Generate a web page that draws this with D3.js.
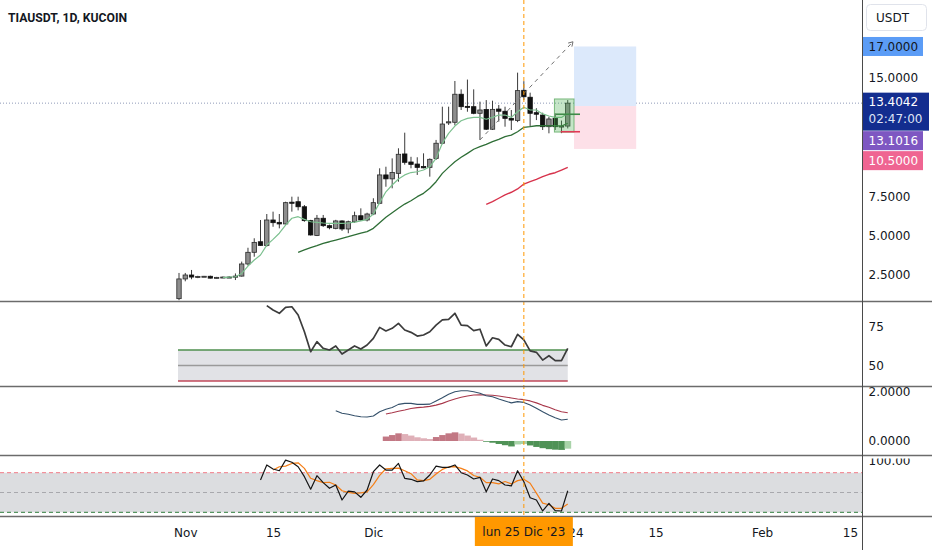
<!DOCTYPE html>
<html>
<head>
<meta charset="utf-8">
<script src="https://cdn.jsdelivr.net/npm/d3@7/dist/d3.min.js"></script>
<style>
html,body{margin:0;padding:0;background:#fff;}
svg{display:block;}
</style>
</head>
<body>
<svg id="chart" width="932" height="550"></svg>
<script>
// ---------------- DATA ----------------
const title = "TIAUSDT, 1D, KUCOIN";
const currency = "USDT";
const firstDay = "2023-10-31";
const lastDay = "2024-02-15";

const opens = [1.00,2.25,2.50,2.37,2.40,2.42,2.30,2.35,2.37,2.36,
  2.43,3.20,3.94,4.61,4.38,5.99,5.84,5.74,7.12,7.15,
  6.83,5.95,5.00,6.10,5.63,5.46,5.93,5.42,5.88,6.26,
  5.99,6.37,7.05,8.85,8.60,8.95,10.18,9.67,9.54,9.38,
  9.33,9.90,10.86,12.15,12.19,13.97,13.20,13.18,12.76,13.00,
  11.75,13.03,12.89,12.44,12.31,14.22,13.78,12.80,12.65,11.91,
  12.44,11.91,11.95];
const highs = [2.63,2.63,2.82,2.45,2.44,2.46,2.38,2.40,2.42,2.60,
  3.35,4.23,4.83,5.99,6.37,6.52,6.37,7.15,7.47,7.47,
  6.94,6.00,6.31,6.31,5.70,6.00,5.97,5.95,6.52,6.73,
  6.45,7.37,9.27,9.37,9.90,10.54,11.53,10.00,9.97,10.22,
  9.90,11.07,13.18,13.18,14.81,14.28,14.90,14.28,13.50,13.60,
  13.56,13.29,13.18,12.97,15.34,14.80,14.07,13.08,12.80,12.54,
  12.76,12.30,13.60];
const lows = [0.90,2.10,2.23,2.30,2.38,2.28,2.28,2.30,2.32,2.18,
  2.40,3.10,3.66,4.35,4.30,5.56,5.46,5.70,6.52,6.60,
  5.88,5.00,4.97,5.55,5.40,5.40,5.30,5.15,5.80,5.95,
  5.90,6.30,7.00,8.10,8.00,8.42,9.50,9.27,8.85,9.27,
  8.74,9.80,10.80,12.02,12.00,12.97,12.86,12.70,11.07,11.70,
  11.70,12.23,11.91,11.70,12.20,13.60,11.90,12.33,11.70,11.49,
  11.70,11.50,11.80];
const closes = [2.25,2.50,2.37,2.40,2.42,2.30,2.35,2.37,2.36,2.43,
  3.20,3.94,4.57,4.38,5.99,5.82,5.74,7.09,7.05,6.83,
  5.95,5.04,6.10,5.63,5.50,5.93,5.42,5.88,6.26,5.99,
  6.37,7.09,8.85,8.60,9.00,10.16,9.65,9.52,9.33,9.30,
  9.84,10.86,12.08,12.22,13.97,13.18,13.18,12.76,12.97,11.75,
  13.01,12.89,12.44,12.33,14.20,13.81,12.76,12.70,11.91,12.40,
  11.91,11.95,13.4042];

// moving averages (start = index of first candle they cover)
const emaFastStart = 7;
const emaFast = [2.33,2.36,2.39,2.6,3.07,3.45,3.77,4.4,4.76,5.15,5.67,6.1,6.2,6.03,5.88,5.84,5.8,5.78,5.78,5.78,
  5.8,5.85,5.93,6.03,6.37,7.09,7.78,8.21,8.59,8.85,9.0,9.05,9.16,9.37,9.9,10.86,11.49,11.95,12.29,12.44,
  12.5,12.5,12.38,12.5,12.65,12.65,12.5,12.86,13.14,12.97,12.97,12.72,12.59,12.5,12.5,12.76];
const emaMidStart = 19;
const emaMid = [3.94,4.09,4.23,4.36,4.51,4.61,4.72,4.83,4.93,5.04,5.15,5.25,5.46,5.82,6.16,6.45,6.73,7.0,7.21,7.47,
  7.68,8.0,8.42,8.95,9.33,9.69,9.97,10.22,10.48,10.64,10.79,10.96,11.11,11.28,11.38,11.59,11.87,11.91,11.97,11.97,
  11.97,11.97,11.95,12.13];
const emaSlowStart = 49;
const emaSlow = [6.98,7.15,7.37,7.58,7.75,7.96,8.27,8.42,8.57,8.74,8.89,8.99,9.16,9.33];

// RSI
const rsiStart = 14;
const rsi = [88.6,85.8,83.7,87.5,87.9,82.6,71.8,58.9,65.4,61.1,60,62.6,57.4,60,62.6,60.6,63.2,67.5,74.6,72.3,
  74,77.2,72.9,71.4,69,69.7,71.8,76.1,79.4,79.8,83.7,76.1,75.7,72.5,73.4,62.6,67.9,66.9,63.2,62.1,
  70.1,66.5,59.4,58.5,53.5,56.3,53.1,53.1,61.1];
const rsiLevels = [60, 50, 40];
const rsiTicks = [50, 75];

// MACD
const macdStart = 25;
const macd = [1.22,1.12,1.08,1.02,0.98,0.97,1.01,1.18,1.28,1.35,1.48,1.52,1.52,1.48,1.48,1.49,1.62,1.75,1.89,1.99,
  2.03,2.03,1.99,1.93,1.83,1.79,1.70,1.62,1.54,1.59,1.56,1.45,1.32,1.18,1.05,0.94,0.85,0.88];
const signalStart = 33;
const signal = [1.09,1.14,1.20,1.25,1.31,1.35,1.37,1.40,1.45,1.52,1.62,1.70,1.77,1.82,1.86,1.87,1.86,1.85,1.82,1.78,
  1.74,1.70,1.67,1.62,1.54,1.44,1.36,1.26,1.18,1.14];
const histStart = 33;
const hist = [0.18,0.24,0.31,0.28,0.22,0.15,0.11,0.08,0.16,0.24,0.31,0.35,0.30,0.22,0.14,0.05,-0.03,-0.07,-0.12,-0.17,
  -0.22,-0.14,-0.12,-0.18,-0.24,-0.29,-0.33,-0.35,-0.36,-0.31];
const macdTicks = [0, 2];

// Stochastic
const stochKStart = 13;
const stochK = [69,91.7,85.6,83,99,95.8,89,74,55,75.5,65,56.4,61.4,38.6,52,51,42.7,53.8,81.5,91.7,
  84,84,94,71.5,70,66.4,67.5,76.5,90,88,88,91.7,80,76.5,70.5,73,51,70.5,68,61.4,
  60,83,66.4,42,38.6,22,33.6,22.4,22,52.7];
const stochDStart = 15;
const stochD = [84,89,90,94,95,86.6,71.5,68,65,65.5,61.4,52.7,50.3,48.8,49.5,51,62,76,86,86.6,
  87,83,78.5,69,68,70,78,85,88.7,89.3,86.6,82.7,75.7,73,65,65,63,66.6,63,68,
  70,64,49,34,31.5,26,26,32.4];
const stochLevels = [80, 50, 20];
const stochTicks = [100];

// price axis
const priceTicks = [2.5, 5.0, 7.5, 15.0];
const lastTime = "02:47:00";
const entryLabel = 13.1016;

// time axis
const timeTicks = ["2023-11-01","2023-11-15","2023-12-01","2024-01-01","2024-01-15","2024-02-01","2024-02-15"];
const timeTickLabels = ["Nov","15","Dic","2024","15","Feb","15"];
const cursorDay = "2023-12-25";
const cursorLabel = "lun 25 Dic '23";

// drawings
const trendLine = [["2023-12-18T00:00", 11.07], ["2024-01-01T20:00", 17.3]];
const positionTool = {start:"2024-01-02T00:00", end:"2024-01-11T22:00", target:17.0, entry:13.22, stop:10.5};
const boxDrawing = {start:"2023-12-29T21:00", end:"2024-01-02T00:00", top:13.67, bottom:11.57};
const levelLines = [
  {start:"2023-12-30T02:00", end:"2024-01-02T23:00", price:12.7, kind:"up"},
  {start:"2023-12-30T21:00", end:"2024-01-02T23:00", price:11.59, kind:"down"}
];

// ---------------- CHART ----------------
const W = 932, H = 550, AX = 862.5;
const FONT = '"DejaVu Sans", Verdana, sans-serif';
const svg = d3.select("#chart");
const pDay = d3.utcParse("%Y-%m-%d");
const pTime = d3.utcParse("%Y-%m-%dT%H:%M");
const day0 = pDay(firstDay);
const dateOf = i => d3.utcDay.offset(day0, i);

const x = d3.scaleUtc().domain([day0, pDay(lastDay)]).range([179, 849.9]);
const step = x(dateOf(1)) - x(dateOf(0));

const panes = {
  main:  {top:0,   bottom:301},
  rsi:   {top:302, bottom:386},
  macd:  {top:387, bottom:455},
  stoch: {top:456, bottom:516}
};
const yP = d3.scaleLinear().domain([2.5, 15]).range([275, 78]);
const yR = d3.scaleLinear().domain([40, 60]).range([381, 350]);
const yM = d3.scaleLinear().domain([0, 2]).range([441, 391.5]);
const yS = d3.scaleLinear().domain([20, 80]).range([512.3, 472.7]);

const defs = svg.append("defs");
Object.entries(panes).forEach(([k, p]) => {
  defs.append("clipPath").attr("id", "clip-" + k)
    .append("rect").attr("x", 0).attr("y", p.top).attr("width", AX).attr("height", p.bottom - p.top);
});
svg.append("rect").attr("width", W).attr("height", H).attr("fill", "#ffffff");

const gMain = svg.append("g").attr("clip-path", "url(#clip-main)");
const gRsi = svg.append("g").attr("clip-path", "url(#clip-rsi)");
const gMacd = svg.append("g").attr("clip-path", "url(#clip-macd)");
const gSt = svg.append("g").attr("clip-path", "url(#clip-stoch)");

function series(arr, start) { return arr.map((v, i) => ({d: dateOf(start + i), v})); }
function drawLine(g, data, yScale, color, width, dash) {
  g.append("path").datum(data)
    .attr("d", d3.line().x(d => x(d.d)).y(d => yScale(d.v)))
    .attr("fill", "none").attr("stroke", color).attr("stroke-width", width)
    .attr("stroke-linejoin", "round").attr("stroke-dasharray", dash || null);
}

// ---- main pane ----
const candles = closes.map((c, i) => ({d: dateOf(i), o: opens[i], h: highs[i], l: lows[i], c}));
const lastClose = closes[closes.length-1];
gMain.append("line").attr("x1", 0).attr("x2", AX).attr("y1", yP(lastClose)).attr("y2", yP(lastClose))
  .attr("stroke", "#8f9bb8").attr("stroke-width", 1).attr("stroke-dasharray", "1,2");

// position tool
const ptX0 = x(pTime(positionTool.start)), ptX1 = x(pTime(positionTool.end));
gMain.append("rect").attr("x", ptX0).attr("width", ptX1 - ptX0)
  .attr("y", yP(positionTool.target)).attr("height", yP(positionTool.entry) - yP(positionTool.target))
  .attr("fill", "#dce9fb");
gMain.append("rect").attr("x", ptX0).attr("width", ptX1 - ptX0)
  .attr("y", yP(positionTool.entry)).attr("height", yP(positionTool.stop) - yP(positionTool.entry))
  .attr("fill", "#fde0e8");

// candles
const cg = gMain.append("g");
const bw = 4.4;
cg.selectAll("line.wick").data(candles).join("line").attr("class", "wick")
  .attr("x1", d => x(d.d)).attr("x2", d => x(d.d))
  .attr("y1", d => yP(d.h)).attr("y2", d => yP(d.l))
  .attr("stroke", "#3a3a3a").attr("stroke-width", 1);
cg.selectAll("rect.body").data(candles).join("rect").attr("class", "body")
  .attr("x", d => x(d.d) - bw/2).attr("width", bw)
  .attr("y", d => yP(Math.max(d.o, d.c)))
  .attr("height", d => Math.max(1, Math.abs(yP(d.o) - yP(d.c))))
  .attr("fill", d => d.c >= d.o ? "#8d8d8d" : "#111111")
  .attr("stroke", d => d.c >= d.o ? "#2a2a2a" : "#111111").attr("stroke-width", 0.8);

// moving averages
drawLine(gMain, series(emaFast, emaFastStart), yP, "#7cc08f", 1.2);
drawLine(gMain, series(emaMid, emaMidStart), yP, "#2e6e36", 1.3);
drawLine(gMain, series(emaSlow, emaSlowStart), yP, "#d7334c", 1.4);

// green box drawing
gMain.append("rect")
  .attr("x", x(pTime(boxDrawing.start))).attr("width", x(pTime(boxDrawing.end)) - x(pTime(boxDrawing.start)))
  .attr("y", yP(boxDrawing.top)).attr("height", yP(boxDrawing.bottom) - yP(boxDrawing.top))
  .attr("fill", "rgba(76,175,80,0.32)").attr("stroke", "rgba(76,160,80,0.7)").attr("stroke-width", 1);
levelLines.forEach(l => {
  gMain.append("line").attr("x1", x(pTime(l.start))).attr("x2", x(pTime(l.end)))
    .attr("y1", yP(l.price)).attr("y2", yP(l.price))
    .attr("stroke", l.kind === "up" ? "#3f8a48" : "#e03a55").attr("stroke-width", 1.6);
});

// trend line (dashed, with arrow)
const tl = trendLine.map(p => [x(pTime(p[0])), yP(p[1])]);
gMain.append("line").attr("x1", tl[0][0]).attr("y1", tl[0][1]).attr("x2", tl[1][0]).attr("y2", tl[1][1])
  .attr("stroke", "#6f6f6f").attr("stroke-width", 1).attr("stroke-dasharray", "4,4");
(function(){
  const ang = Math.atan2(tl[1][1]-tl[0][1], tl[1][0]-tl[0][0]);
  const L = 5;
  [ang + 2.6, ang - 2.6].forEach(a => {
    gMain.append("line").attr("x1", tl[1][0]).attr("y1", tl[1][1])
      .attr("x2", tl[1][0] + L*Math.cos(a)).attr("y2", tl[1][1] + L*Math.sin(a))
      .attr("stroke", "#6f6f6f").attr("stroke-width", 1);
  });
})();

// ---- RSI pane ----
const rsiX0 = x(dateOf(0)) - 1, rsiX1 = x(dateOf(closes.length - 1));
gRsi.append("rect").attr("x", rsiX0).attr("width", rsiX1 - rsiX0)
  .attr("y", yR(rsiLevels[0])).attr("height", yR(rsiLevels[2]) - yR(rsiLevels[0])).attr("fill", "#e1e2e6");
const rsiLevelColors = ["#4e8f4e", "#9a9a9a", "#c0485a"];
rsiLevels.forEach((lv, i) => {
  gRsi.append("line").attr("x1", rsiX0).attr("x2", rsiX1).attr("y1", yR(lv)).attr("y2", yR(lv))
    .attr("stroke", rsiLevelColors[i]).attr("stroke-width", 1.5);
});
drawLine(gRsi, series(rsi, rsiStart), yR, "#3c3c3c", 1.7);

// ---- MACD pane ----
const hs = series(hist, histStart);
gMacd.selectAll("rect.h").data(hs).join("rect").attr("class", "h")
  .attr("x", d => x(d.d) - step/2).attr("width", step + 0.3)
  .attr("y", d => Math.min(yM(0), yM(d.v)))
  .attr("height", d => Math.abs(yM(d.v) - yM(0)))
  .attr("fill", (d, i) => {
    const prev = i > 0 ? hs[i-1].v : 0;
    if (d.v >= 0) return d.v >= prev ? "#c27884" : "#dfb0b8";
    return d.v <= prev ? "#4f9256" : "#a9d3a9";
  });
drawLine(gMacd, series(signal, signalStart), yM, "#a8374a", 1.1);
drawLine(gMacd, series(macd, macdStart), yM, "#34506a", 1.1);

// ---- Stochastic pane ----
gSt.append("rect").attr("x", 0).attr("width", AX)
  .attr("y", yS(stochLevels[0])).attr("height", yS(stochLevels[2]) - yS(stochLevels[0])).attr("fill", "#dcdde0");
const stColors = ["#f27a86", "#a8a8ad", "#2f7d3c"];
stochLevels.forEach((lv, i) => {
  gSt.append("line").attr("x1", 0).attr("x2", AX).attr("y1", yS(lv)).attr("y2", yS(lv))
    .attr("stroke", stColors[i]).attr("stroke-width", 1).attr("stroke-dasharray", "4,3");
});
drawLine(gSt, series(stochD, stochDStart), yS, "#f57f17", 1.2);
drawLine(gSt, series(stochK, stochKStart), yS, "#151515", 1.2);

// ---- cursor line ----
svg.append("line").attr("x1", x(pDay(cursorDay))).attr("x2", x(pDay(cursorDay)))
  .attr("y1", 0).attr("y2", panes.stoch.bottom)
  .attr("stroke", "#ff9800").attr("stroke-width", 1).attr("stroke-dasharray", "4,3");

// ---- axes ----
function styleAxis(g) {
  g.select(".domain").remove();
  g.selectAll("text").attr("font-family", FONT).attr("font-size", 12).attr("fill", "#131722");
}
svg.append("g").attr("transform", `translate(${AX},0)`)
  .call(d3.axisRight(yP).tickValues(priceTicks).tickFormat(d3.format(".4f")).tickSize(0).tickPadding(6))
  .call(styleAxis);
svg.append("g").attr("transform", `translate(${AX},0)`)
  .call(d3.axisRight(yR).tickValues(rsiTicks).tickFormat(d3.format("d")).tickSize(0).tickPadding(6))
  .call(styleAxis);
svg.append("g").attr("transform", `translate(${AX},0)`)
  .call(d3.axisRight(yM).tickValues(macdTicks).tickFormat(d3.format(".4f")).tickSize(0).tickPadding(6))
  .call(styleAxis);
defs.append("clipPath").attr("id", "clip-staxis").append("rect")
  .attr("x", 0).attr("y", panes.stoch.top + 1.5).attr("width", W - AX).attr("height", panes.stoch.bottom - panes.stoch.top);
svg.append("g").attr("transform", `translate(${AX},1)`).attr("clip-path", "url(#clip-staxis)")
  .call(d3.axisRight(yS).tickValues(stochTicks).tickFormat(d3.format(".2f")).tickSize(0).tickPadding(6))
  .call(styleAxis);

svg.append("g").attr("transform", `translate(0,${panes.stoch.bottom})`)
  .call(d3.axisBottom(x).tickValues(timeTicks.map(pDay)).tickFormat((d, i) => timeTickLabels[i]).tickSize(0).tickPadding(12))
  .call(styleAxis);

// ---- separators and axis border ----
[panes.main.bottom + 0.5, panes.rsi.bottom + 0.5, panes.macd.bottom + 0.5, panes.stoch.bottom + 0.5].forEach(yy => {
  svg.append("line").attr("x1", 0).attr("x2", W).attr("y1", yy).attr("y2", yy)
    .attr("stroke", "#6b6b6b").attr("stroke-width", 1.4);
});
svg.append("line").attr("x1", AX).attr("x2", AX).attr("y1", 0).attr("y2", H)
  .attr("stroke", "#4a4a4a").attr("stroke-width", 1);

// ---- price badges ----
function badge(yc, h, fill, lines, textFill, w) {
  svg.append("rect").attr("x", AX + 0.5).attr("y", yc - h/2).attr("width", w || 60).attr("height", h).attr("fill", fill);
  lines.forEach((t, i) => {
    svg.append("text").attr("x", AX + 6).attr("y", yc - h/2 + 9.5 + i*17)
      .attr("dy", "0.35em").attr("font-family", FONT).attr("font-size", 12)
      .attr("fill", textFill[i] || textFill[0]).text(t);
  });
}
const fmt4 = d3.format(".4f");
badge(yP(positionTool.target), 19, "#5b9cf6", [fmt4(positionTool.target)], ["#131722"]);
const lastY = yP(lastClose);
badge(lastY + 8.5, 38, "#132d8f", [fmt4(lastClose), lastTime], ["#ffffff", "#dfe4f5"], 66);
const purpleC = lastY + 8.5 + 19 + 10;
badge(purpleC, 19, "#7e57c2", [fmt4(entryLabel)], ["#ffffff"]);
badge(purpleC + 20, 19, "#ef6592", [fmt4(positionTool.stop)], ["#ffffff"]);

// currency box
svg.append("rect").attr("x", 866.5).attr("y", 4.5).attr("width", 60).attr("height", 26).attr("rx", 4)
  .attr("fill", "#ffffff").attr("stroke", "#e0e3eb");
svg.append("text").attr("x", 876).attr("y", 17.5).attr("dy", "0.35em").attr("font-family", FONT)
  .attr("font-size", 12).attr("fill", "#131722").text(currency);

// cursor time label
const cx = x(pDay(cursorDay));
svg.append("rect").attr("x", cx - 49).attr("y", panes.stoch.bottom + 1).attr("width", 98).attr("height", 29).attr("fill", "#ff9800");
svg.append("text").attr("x", cx).attr("y", panes.stoch.bottom + 16).attr("dy", "0.35em").attr("text-anchor", "middle")
  .attr("font-family", FONT).attr("font-size", 12).attr("fill", "#131722").text(cursorLabel);

// title
svg.append("text").attr("x", 8).attr("y", 17.5).attr("dy", "0.35em")
  .attr("font-family", 'Roboto, "Noto Sans", sans-serif').attr("font-weight", 700)
  .attr("font-size", 12.2).attr("fill", "#131722").text(title);
</script>
</body>
</html>
